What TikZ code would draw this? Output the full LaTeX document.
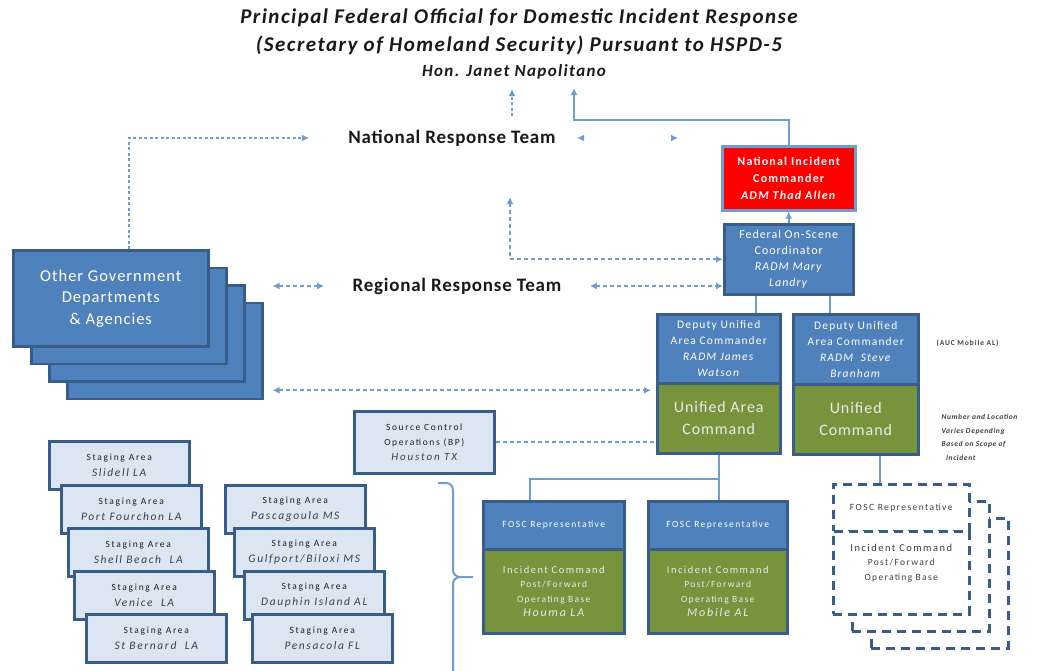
\documentclass[tikz,border=0pt]{standalone}
\usepackage{fontspec}
\setmainfont{Carlito}
\usetikzlibrary{arrows.meta,positioning,calc}

\definecolor{boxblue}{HTML}{4F81BD}
\definecolor{edgeblue}{HTML}{385D8A}
\definecolor{lineblue}{HTML}{6E9CD4}
\definecolor{paleblue}{HTML}{DCE6F2}
\definecolor{cmdgreen}{HTML}{77933C}
\definecolor{inkgray}{HTML}{404040}
\newcommand{\fsz}[2]{\fontsize{#1}{#2}\selectfont}
\newcommand{\trk}[1]{\addfontfeatures{LetterSpace=#1}}

\begin{document}
\begin{tikzpicture}[x=1pt, y=-1pt,
    box/.style={draw=edgeblue, line width=2.5pt, align=center, inner sep=1pt, anchor=north west},
    bluebox/.style={box, fill=boxblue, text=white},
    greenbox/.style={box, fill=cmdgreen, text=white!92!black},
    palebox/.style={box, fill=paleblue, text=black!88},
    dashbox/.style={box, fill=white, dash pattern=on 9pt off 6pt},
    conn/.style={draw=lineblue, line width=2pt},
    link/.style={draw=lineblue, line width=2pt, dash pattern=on 4pt off 3pt},
    dots/.style={link, dash pattern=on 3pt off 2.5pt},
    tip/.style={-{Latex[length=7pt,width=7pt]}},
    tips/.style={{Latex[length=7pt,width=7pt]}-{Latex[length=7pt,width=7pt]}},
    team/.style={font=\bfseries\fsz{19}{22}\trk{4}, text=black!90},
    head/.style={font=\bfseries\itshape\fsz{21}{24}\trk{7}, text=black!90}
  ]
  \useasboundingbox (0,0) rectangle (1037,670);

  \node[head] (title) at (519,18) {Principal Federal Official for Domestic Incident Response};
  \node[head] (titlesub) at (519,45) {(Secretary of Homeland Security) Pursuant to HSPD-5};
  \node[head, font=\bfseries\itshape\fsz{17}{20}\trk{8}] (hon) at (514,72) {Hon. Janet Napolitano};

  \node[team] (nrt) at (452,138) {National Response Team};
  \node[team] (rrt) at (457,286) {Regional Response Team};

  % stack of agencies, back to front
  \foreach \k/\d in {4/3, 3/2, 2/1}
    \node[bluebox, minimum width=195pt, minimum height=96pt] (og\k) at (12+18*\d, 249+17.6*\d) {};
  \node[bluebox, minimum width=195pt, minimum height=96pt, font=\fsz{16.5}{21.5}\trk{6}] (og1) at (12,249)
    {Other Government\\Departments\\\& Agencies};

  \node[box, draw=lineblue, fill=red, text=white, minimum width=133pt, minimum height=64pt,
    font=\bfseries\fsz{12}{17}\trk{10}] (nic) at (721,145) {National Incident\\Commander\\\textit{ADM Thad Allen}};
  \node[bluebox, minimum width=129pt, minimum height=70pt, font=\fsz{12}{16}\trk{8}] (fosc) at (723,223)
    {Federal On-Scene\\Coordinator\\\textit{RADM Mary}\\\textit{Landry}};

  \node[bluebox, minimum width=123pt, minimum height=69pt, font=\fsz{11.5}{16}\trk{10}] (dep1) at (656,313)
    {Deputy Unified\\Area Commander\\\textit{RADM James}\\\textit{Watson}};
  \node[greenbox, minimum width=123pt, minimum height=70pt, font=\fsz{16}{22}\trk{6}] (uac) at (656,382)
    {Unified Area\\Command};
  \node[bluebox, minimum width=125pt, minimum height=70pt, font=\fsz{11.5}{16}\trk{10}] (dep2) at (792,313)
    {Deputy Unified\\Area Commander\\\textit{RADM\ \ Steve}\\\textit{Branham}};
  \node[greenbox, minimum width=125pt, minimum height=70pt, font=\fsz{16}{22}\trk{6}] (uc) at (792,383)
    {Unified\\Command};

  \node[text=inkgray, font=\bfseries\fsz{7.5}{9}\trk{12}, anchor=west] (ucnote) at (933,343) {(AUC Mobile AL)};
  \node[text=inkgray, font=\bfseries\itshape\fsz{7.5}{13.5}\trk{8}, anchor=north west, align=left] (scopenote) at (938,411)
    {Number and Location\\Varies Depending\\Based on Scope of\\\ \ Incident};

  \node[palebox, minimum width=140pt, minimum height=62pt, font=\fsz{9.5}{15}\trk{17}] (src) at (353,410)
    {Source Control\\Operations (BP)\\{\fsz{11}{15}\itshape\color{inkgray}Houston TX}};

  \foreach \i/\x/\y/\site in {1/48/440/Slidell LA, 2/60/484/Port Fourchon LA, 3/67/527/Shell Beach\ \ LA,
      4/73/570/Venice\ \ LA, 5/85/613/St Bernard\ \ LA}
    \node[palebox, minimum width=140pt, minimum height=48pt, font=\fsz{9.5}{16}\trk{18}] (stage\i) at (\x,\y)
      {Staging Area\\{\fsz{11.5}{16}\trk{14}\itshape\color{inkgray}\site}};
  \foreach \i/\x/\y/\site in {1/224/484/Pascagoula MS, 2/233/527/{Gulfport/Biloxi MS},
      3/243/570/Dauphin Island AL, 4/251/613/Pensacola FL}
    \node[palebox, minimum width=140pt, minimum height=48pt, font=\fsz{9.5}{16}\trk{18}] (gulf\i) at (\x,\y)
      {Staging Area\\{\fsz{11.5}{16}\trk{14}\itshape\color{inkgray}\site}};

  \node[bluebox, minimum width=141pt, minimum height=48pt, font=\fsz{9.5}{12}\trk{15}] (rep1) at (482,500) {FOSC Representative};
  \node[greenbox, minimum width=141pt, minimum height=84pt, font=\fsz{9.5}{14.5}\trk{14}] (icp1) at (482,548)
    {{\fsz{10.5}{14}\trk{14}Incident Command}\\Post/Forward\\Operating Base\\{\fsz{12}{14}\trk{15}\itshape Houma LA}};
  \node[bluebox, minimum width=139pt, minimum height=48pt, font=\fsz{9.5}{12}\trk{15}] (rep2) at (647,500) {FOSC Representative};
  \node[greenbox, minimum width=139pt, minimum height=84pt, font=\fsz{9.5}{14.5}\trk{14}] (icp2) at (647,548)
    {{\fsz{10.5}{14}\trk{14}Incident Command}\\Post/Forward\\Operating Base\\{\fsz{12}{14}\trk{15}\itshape Mobile AL}};

  \node[dashbox, minimum width=137pt, minimum height=130pt] (dashc) at (870,517) {};
  \node[dashbox, minimum width=137pt, minimum height=130pt] (dashb) at (851,500) {};
  \node[dashbox, minimum width=136pt, minimum height=47pt, text=inkgray, font=\fsz{9.5}{12}\trk{15}] (dashrep) at (832,483) {FOSC Representative};
  \node[dashbox, minimum width=136pt, minimum height=83pt] (dashicp) at (832,530) {};
  \node[below=8pt of dashrep, text=inkgray, align=center, font=\fsz{9.5}{14.5}\trk{14}] (dashtext)
    {{\fsz{10.5}{14}\trk{14}Incident Command}\\Post/Forward\\Operating Base};

  % connectors
  \coordinate (toppf) at (574,88);
  \coordinate (toppf2) at (512,89);
  \coordinate (nrtup) at (512,116);
  \coordinate (nrtdown) at (510,197);
  \coordinate (fork) at ($(uac.south)+(0,24)$);

  \draw[conn, tip] (nic.north) -- ++(0,-25) -| (toppf);
  \draw[dots, tip] (nrtup) -- (toppf2);
  \draw[dots, tip] ([xshift=18pt]og1.north) |- ([xshift=-36pt]nrt.west);
  \draw[link, tips, dash pattern=on 0pt off 400pt, shorten <=18pt, shorten >=43pt] (nrt.east) -- (nrt.east -| nic.west);
  \draw[link, tips] (nrtdown) |- (fosc.west);
  \draw[link, tips, shorten <=25pt] (rrt.east) -- (rrt.east -| fosc.west);
  \draw[link, tips, shorten <=9pt, shorten >=25pt] (og4.east |- rrt.west) -- (rrt.west);
  \draw[link, tips, shorten <=9pt, shorten >=5pt] ([yshift=10pt]og4.south east) -- ([yshift=10pt]og4.south east -| uac.west);
  \draw[link] (src.east) -- (src.east -| uac.west);

  \draw[conn, tip] (fosc.north) -- (nic.south);
  \draw[conn] ([xshift=-33pt]fosc.south) -- ([xshift=-33pt]fosc.south |- dep1.north);
  \draw[conn] ([xshift=41pt]fosc.south) -- ([xshift=41pt]fosc.south |- dep2.north);
  \draw[conn] (uac.south) -- (uac.south |- rep2.north);
  \draw[conn] (fork) -| ([xshift=-24pt]rep1.north);
  \draw[conn] ([xshift=24pt]uc.south) -- ([xshift=24pt]uc.south |- dashrep.north);

  \draw[conn] (438,483) -- (446,483) to[out=0,in=90] (453,490) -- (453,570) to[out=-90,in=180] (460,577) -- (473,577);
  \draw[conn] (460,577) to[out=180,in=90] (453,584) -- (453,672);
\end{tikzpicture}
\end{document}
